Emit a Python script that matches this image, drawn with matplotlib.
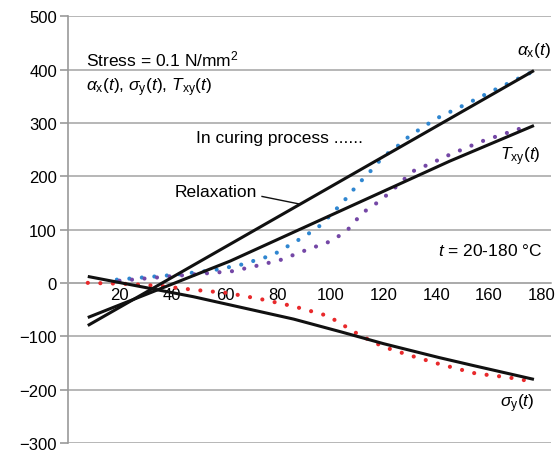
import matplotlib
matplotlib.use("Agg")
import matplotlib.pyplot as plt

plt.rcParams['font.family'] = ['Liberation Sans', 'DejaVu Sans']
plt.rcParams['mathtext.fontset'] = 'custom'
plt.rcParams['mathtext.rm'] = 'Liberation Sans'
plt.rcParams['mathtext.it'] = 'Liberation Sans:italic'
plt.rcParams['mathtext.bf'] = 'Liberation Sans:bold'

# dotted measured curves
ax_x = [19, 31, 41, 56, 66, 78, 89, 95, 100, 106, 110, 115, 120, 125, 130, 140, 150, 163, 177]
ax_y = [6, 11, 15, 24, 34, 52, 84, 103, 127, 159, 183, 209, 237, 255, 276, 308, 332, 364, 397]

txy_x = [20, 41, 63, 72, 81, 91, 100, 106, 112, 119, 125, 131, 138, 144, 157, 174]
txy_y = [4, 13, 22, 32, 43, 62, 78, 97, 131, 155, 181, 209, 224, 238, 265, 293]

sy_x = [8, 23, 36, 48, 61, 74, 86, 99, 105, 111, 120, 130, 141, 155, 167, 174]
sy_y = [0, -2, -6, -13, -19, -31, -44, -62, -80, -98, -120, -136, -152, -170, -177, -183]

# relaxation (solid) lines
ra_x = [8, 177]
ra_y = [-80, 398]
rt_x = [8, 62, 145, 177]
rt_y = [-65, 41, 228, 295]
rs_x = [8, 48, 86, 104, 120, 141, 154, 177]
rs_y = [12, -26, -68, -92, -114, -140, -155, -181]

xticks = [20, 40, 60, 80, 100, 120, 140, 160, 180]
yticks = [-300, -200, -100, 0, 100, 200, 300, 400, 500]

fig = plt.figure(figsize=(5.55, 4.52), dpi=100)
ax = fig.add_axes([0.1225, 0.018, 0.8705, 0.944])

dots = dict(lw=3.0, linestyle=(0, (0.01, 3.0)), dash_capstyle='round', zorder=3)
ax.plot(ax_x, ax_y, color='#2f86d0', **dots)
ax.plot(txy_x, txy_y, color='#7447a6', **dots)
ax.plot(sy_x, sy_y, color='#e8292b', **dots)

solid = dict(color='#111111', lw=2.2, zorder=4, solid_capstyle='butt')
ax.plot(ra_x, ra_y, **solid)
ax.plot(rt_x, rt_y, **solid)
ax.plot(rs_x, rs_y, **solid)

ax.set_xlim(0.5, 183.5)
ax.set_ylim(-300, 500)
ax.set_yticks(yticks)
ax.set_yticklabels([str(v).replace('-', '\u2212') for v in yticks])
ax.set_xticks(xticks)
ax.set_axisbelow(True)
ax.grid(axis='y', color='#aaaaaa', lw=1.2)

for s in ['top', 'right']:
    ax.spines[s].set_visible(False)
ax.spines['left'].set_color('#999999')
ax.spines['left'].set_linewidth(1.2)
ax.spines['bottom'].set_position(('data', 0))
ax.spines['bottom'].set_color('#aaaaaa')
ax.spines['bottom'].set_linewidth(1.2)

ax.tick_params(axis='y', length=6, width=1.2, color='#999999', labelsize=12, pad=2)
ax.tick_params(axis='x', length=0, labelsize=12, pad=3)

ax.text(7.5, 420, 'Stress = 0.1 N/mm$^2$', fontsize=12.5, va='center')
ax.text(7.5, 368, r'$\alpha_{\rm x}(t)$, $\sigma_{\rm y}(t)$, $T_{\rm xy}(t)$',
        fontsize=12.5, va='center')
ax.text(49, 272, 'In curing process ......', fontsize=12.5, va='center')
ax.text(41, 172, 'Relaxation', fontsize=12.5, va='center')
ax.plot([74, 88], [162, 148], color='#111111', lw=1.0, zorder=4)
ax.text(180, 62, r'$t$ = 20-180 °C', fontsize=12.5, va='center', ha='right')

ax.text(170.5, 438, r'$\alpha_{\rm x}(t)$', fontsize=12.5, va='center', clip_on=False)
ax.text(164, 239, r'$T_{\rm xy}(t)$', fontsize=12.5, va='center')
ax.text(164, -224, r'$\sigma_{\rm y}(t)$', fontsize=12.5, va='center')

fig.savefig('out.png', dpi=100)
